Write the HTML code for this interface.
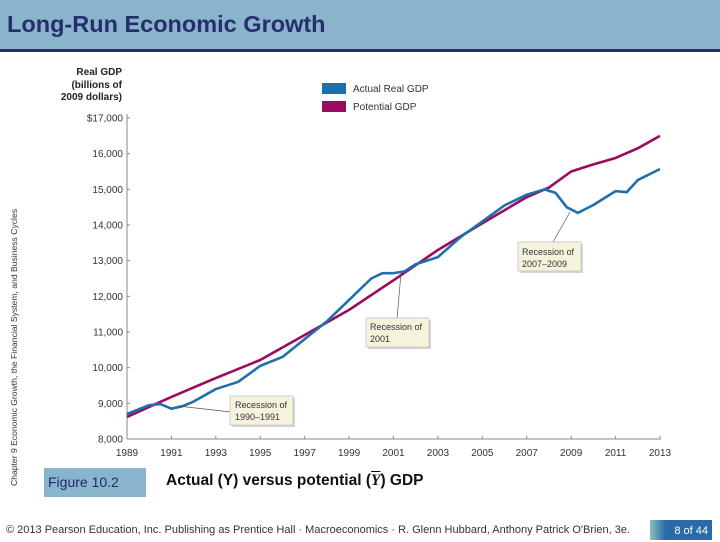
<!DOCTYPE html>
<html><head><meta charset="utf-8"><style>
body{margin:0;width:720px;height:540px;overflow:hidden;background:#fff;font-family:"Liberation Sans",sans-serif;position:relative}
.abs{position:absolute}
</style></head><body>
<div class="abs" style="left:0;top:0;width:720px;height:49px;background:#8ab4cc;border-bottom:3px solid #262f6b"></div>
<div class="abs" style="left:7px;top:11px;font-size:23.5px;font-weight:bold;color:#262f6b">Long-Run Economic Growth</div>
<div class="abs" style="left:9px;top:486px;transform-origin:0 0;transform:rotate(-90deg);font-size:8.6px;color:#333;white-space:nowrap">Chapter 9 Economic Growth, the Financial System, and Business Cycles</div>
<svg class="abs" style="left:0;top:0" width="720" height="540" id="chart">
<g id="axes"></g><g id="series"></g>
<g>
<rect x="322" y="83" width="24" height="11" fill="#1f6fae"/><text x="353" y="92" font-size="10" fill="#333">Actual Real GDP</text>
<rect x="322" y="101" width="24" height="11" fill="#9b0b5e"/><text x="353" y="110" font-size="10" fill="#333">Potential GDP</text>
</g>
<g font-size="10" font-weight="bold" text-anchor="end" fill="#222">
<text x="122" y="75">Real GDP</text><text x="122" y="88">(billions of</text><text x="122" y="100">2009 dollars)</text></g>
<g font-size="9" fill="#333">
<line x1="231" y1="412" x2="178" y2="406" stroke="#555" stroke-width="0.7"/>
<line x1="397" y1="319" x2="401" y2="273" stroke="#555" stroke-width="0.7"/>
<line x1="553" y1="242" x2="570" y2="212" stroke="#555" stroke-width="0.7"/>
<rect x="232" y="398" width="63" height="29" fill="#aaa" opacity=".5"/><rect x="230" y="396" width="63" height="29" fill="#f6f3dc" stroke="#ccc"/>
<text x="235" y="408">Recession of</text><text x="235" y="420">1990–1991</text>
<rect x="368" y="320" width="63" height="29" fill="#aaa" opacity=".5"/><rect x="366" y="318" width="63" height="29" fill="#f6f3dc" stroke="#ccc"/>
<text x="370" y="330">Recession of</text><text x="370" y="342">2001</text>
<rect x="520" y="244" width="63" height="29" fill="#aaa" opacity=".5"/><rect x="518" y="242" width="63" height="29" fill="#f6f3dc" stroke="#ccc"/>
<text x="522" y="255">Recession of</text><text x="522" y="267">2007–2009</text>
</g>
</svg>
<div class="abs" style="left:44px;top:468px;width:102px;height:29px;background:#8ab4cc;color:#1d2a6b;font-size:14px;line-height:29px;padding-left:4px;box-sizing:border-box">Figure 10.2</div>
<div class="abs" style="left:166px;top:472px;font-size:15.5px;font-weight:bold;color:#111;white-space:nowrap">Actual (Y) versus potential (<i style="font-family:'Liberation Serif',serif;text-decoration:overline">Y</i>) GDP</div>
<div class="abs" style="left:6px;top:524px;font-size:11px;color:#333;white-space:nowrap">© 2013 Pearson Education, Inc. Publishing as Prentice Hall · Macroeconomics · R. Glenn Hubbard, Anthony Patrick O'Brien, 3e.</div>
<div class="abs" style="left:650px;top:520px;width:62px;height:20px;background:linear-gradient(90deg,#8fc0b8,#2a6aa8 25%,#2a6aa8);color:#fff;font-size:11px;text-align:right;line-height:22px;padding-right:4px;box-sizing:border-box">8 of 44</div>
<script>
const yTicks=[8000,9000,10000,11000,12000,13000,14000,15000,16000,17000];
const xTicks=[1989,1991,1993,1995,1997,1999,2001,2003,2005,2007,2009,2011,2013];
const potYears=[1989,1991,1993,1995,1997,1999,2001,2003,2005,2007,2008,2009,2010,2011,2012,2013];
const potValues=[8620,9180,9710,10215,10915,11620,12450,13300,14050,14780,15050,15500,15700,15880,16150,16500];
const actYears=[1989,1990,1990.5,1991,1991.5,1992,1993,1994,1995,1996,1997,1998,1999,2000,2000.5,2001,2001.5,2002,2003,2004,2005,2006,2007,2007.8,2008.3,2008.8,2009.3,2010,2011,2011.5,2012,2013];
const actValues=[8700,8950,8980,8850,8920,9050,9400,9600,10050,10300,10800,11300,11900,12500,12650,12650,12700,12900,13100,13650,14100,14550,14850,15000,14900,14500,14340,14560,14950,14920,15260,15570];
const X=y=>127+(y-1989)*(533/24);
const Y=v=>439-(v-8000)*(321/9000);
const ns="http://www.w3.org/2000/svg";
function mk(t,a,p){const e=document.createElementNS(ns,t);for(const k in a)e.setAttribute(k,a[k]);p.appendChild(e);return e;}
const ax=document.getElementById('axes');
const yl=mk('line',{x1:127,y1:114,x2:127,y2:439,stroke:'#888'},ax);


const xl=mk('line',{x1:127,y1:439,x2:661,y2:439,stroke:'#888'},ax);


yTicks.forEach(v=>{mk('line',{x1:127,x2:130,y1:Y(v),y2:Y(v),stroke:'#888'},ax);
const t=mk('text',{x:123,y:Y(v)+3.5,'font-size':10,'text-anchor':'end',fill:'#333'},ax);t.textContent=(v===17000?'$':'')+v.toLocaleString('en-US');

});
xTicks.forEach(y=>{mk('line',{x1:X(y),x2:X(y),y1:436,y2:439,stroke:'#888'},ax);
const t=mk('text',{x:X(y),y:456,'font-size':10,'text-anchor':'middle',fill:'#333'},ax);t.textContent=y;

});
const s=document.getElementById('series');
const pp=mk('polyline',{points:potYears.map((y,i)=>X(y)+','+Y(potValues[i])).join(' '),fill:'none',stroke:'#9b0b5e','stroke-width':2.6,'stroke-linejoin':'round'},s);


const ap=mk('polyline',{points:actYears.map((y,i)=>X(y)+','+Y(actValues[i])).join(' '),fill:'none',stroke:'#1f6fae','stroke-width':2.6,'stroke-linejoin':'round'},s);


</script>
</body></html>
